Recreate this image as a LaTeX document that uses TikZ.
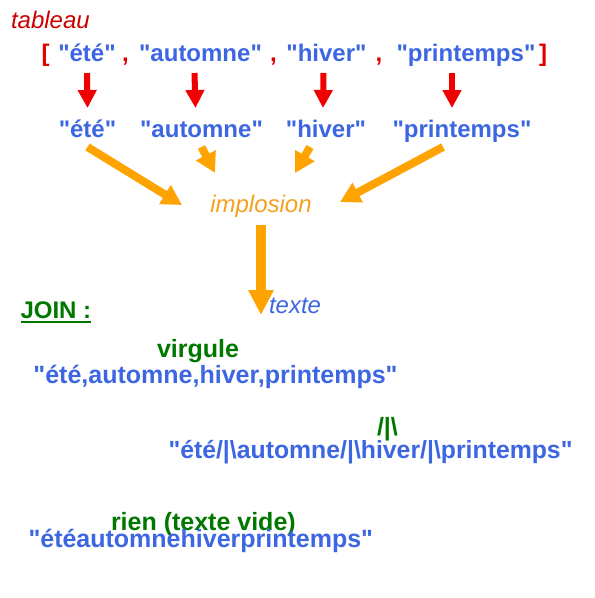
\documentclass[tikz,border=0pt]{standalone}
\usepackage{fontspec}
\setmainfont{Liberation Sans}
\newfontfamily\af{Liberation Sans}
\usetikzlibrary{arrows.meta}
\definecolor{txtblue}{RGB}{61,103,226}
\definecolor{brred}{RGB}{225,0,0}
\definecolor{arrred}{RGB}{240,0,0}
\definecolor{tabred}{RGB}{205,0,0}
\definecolor{orng}{RGB}{255,163,0}
\definecolor{imporange}{RGB}{245,160,30}
\definecolor{grn}{RGB}{0,120,0}
\begin{document}
\begin{tikzpicture}[x=1pt,y=-1pt,
  every node/.style={inner sep=0pt, outer sep=0pt},
  bl/.style={font=\af\fontsize{24}{28}\selectfont\bfseries, text=txtblue, anchor=base},
  rowone/.style={bl, text depth=11.5pt},
  rowtwo/.style={bl, text height=29pt, text depth=10pt},
  brk/.style={font=\af\fontsize{24}{28}\selectfont\bfseries, text=brred, anchor=base},
  gl/.style={font=\af\fontsize{25}{30}\selectfont\bfseries, text=grn, anchor=base west},
  jn/.style={font=\af\fontsize{25}{30}\selectfont\bfseries, text=txtblue, anchor=base west},
  itl/.style={font=\af\fontsize{24}{28}\selectfont\itshape},
  redarr/.style={draw=arrred, line width=6pt, -{Triangle[width=18pt,length=18pt]}},
  orarr/.style={draw=orng, line width=8pt, -{Triangle[width=21pt,length=20pt]}},
  bigarr/.style={draw=orng, line width=10pt, -{Triangle[width=24pt,length=25pt]}},
]
\useasboundingbox[fill=white] (0,0) rectangle (595,598);

% title
\node[itl, text=tabred, anchor=base west] (tab) at (11,28) {tableau};

% row 1
\node[brk] (lb) at (45.5,61.5) {[};
\node[rowone] (a1) at (87,61.5) {"été"};
\node[brk] (c1) at (125.5,61.5) {,};
\node[rowone] (a2) at (200.5,61.5) {"automne"};
\node[brk] (c2) at (273.5,61.5) {,};
\node[rowone] (a3) at (326.5,61.5) {"hiver"};
\node[brk] (c3) at (379,61.5) {,};
\node[rowone] (a4) at (466,61.5) {"printemps"};
\node[brk] (rb) at (543,61.5) {]};

% row 2
\node[rowtwo] (b1) at (87.5,137) {"été"};
\node[rowtwo] (b2) at (201.5,137) {"automne"};
\node[rowtwo] (b3) at (326,137) {"hiver"};
\node[rowtwo] (b4) at (462,137) {"printemps"};

% red arrows
\draw[redarr] (a1.south) -- (b1.north);
\draw[redarr] ([xshift=-6pt]a2.south) -- ([xshift=-6pt]b2.north);
\draw[redarr] ([xshift=-3pt]a3.south) -- ([xshift=-3pt]b3.north);
\draw[redarr] ([xshift=-14pt]a4.south) -- ([xshift=-10pt]b4.north);

% implosion
\node[itl, text=imporange, anchor=base, minimum width=158pt,
      text height=39pt, text depth=13pt] (imp) at (261,212) {implosion};

\draw[orarr] (b1.south) -- ([yshift=-6pt]imp.west);
\draw[orarr] (b2.south) -- ([xshift=-46pt]imp.north);
\draw[orarr] ([xshift=-16pt]b3.south) -- ([xshift=34pt]imp.north);
\draw[orarr] ([xshift=-19pt]b4.south) -- ([yshift=-3pt]imp.east);

% texte
\node[itl, text=txtblue, anchor=base west, text depth=2pt] (tx) at (269,313) {texte};
\draw[bigarr] (imp.south) -- (imp.south |- tx.south);

% JOIN
\node[gl, font=\af\fontsize{24}{28}\selectfont\bfseries] (join) at (20.5,318) {JOIN :};
\draw[grn, line width=2pt] ([yshift=-4pt]join.base west) -- ([yshift=-4pt]join.base east);

\node[gl] (virg) at (157,357) {virgule};
\node[jn] (j1) at (33.5,383) {"été,automne,hiver,printemps"};

\node[gl] (sep) at (377,435) {/|\textbackslash};
\node[jn, font=\af\fontsize{24.8}{30}\selectfont\bfseries] (j2) at (168.5,458) {"été/|\textbackslash automne/|\textbackslash hiver/|\textbackslash printemps"};

\node[gl] (rien) at (111,530) {rien (texte vide)};
\node[jn] (j3) at (28.5,547) {"étéautomnehiverprintemps"};
\end{tikzpicture}
\end{document}
